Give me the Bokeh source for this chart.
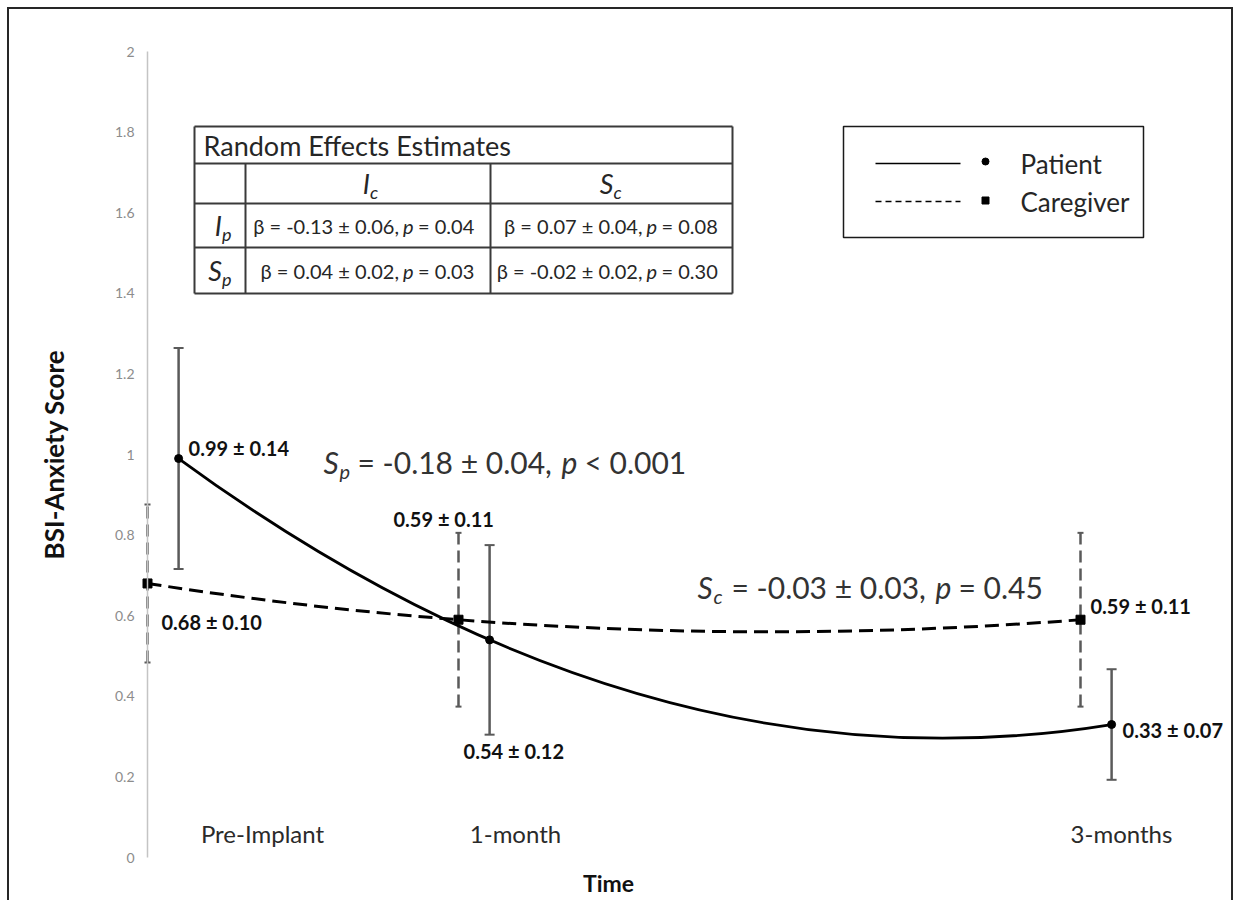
import numpy as np
from bokeh.plotting import figure
from bokeh.models import (Range1d, LinearAxis, FixedTicker, CustomJSTickFormatter,
                          ColumnDataSource, Whisker, TeeHead)
from bokeh.core.properties import value
from bokeh.embed import file_html
from bokeh.resources import INLINE

# ---------------- data ----------------
time_labels = ["Pre-Implant", "1-month", "3-months"]
months = [0, 1, 3]
patient_mean = [0.99, 0.54, 0.33]
patient_se = [0.14, 0.12, 0.07]
caregiver_mean = [0.68, 0.59, 0.59]
caregiver_se = [0.10, 0.11, 0.11]
y_ticks = [0, 0.2, 0.4, 0.6, 0.8, 1.0, 1.2, 1.4, 1.6, 1.8, 2.0]

slope_sub = ["p", "c"]
slope_est = ["-0.18 ± 0.04", "-0.03 ± 0.03"]
slope_p = ["< 0.001", "= 0.45"]

table_title = "Random Effects Estimates"
table_col_sub = ["c", "c"]
table_col_sym = ["I", "S"]
table_row_sym = ["I", "S"]
table_row_sub = ["p", "p"]
re_beta = [["-0.13 ± 0.06", "0.07 ± 0.04"],
           ["0.04 ± 0.02", "-0.02 ± 0.02"]]
re_p = [["0.04", "0.08"],
        ["0.03", "0.30"]]

series_names = ["Patient", "Caregiver"]

# ---------------- layout helpers (page pixels -> data) ----------------
W, H = 1226, 893
OX, OY = 9, 9              # canvas origin on page (7px margin + 2px border)
X0, PXM = 147, 311         # page x of month 0, px per month
Y0, PXU = 857, 403         # page y of score 0, px per unit
FONT = "Lato"
PATIENT_DODGE = 0.1
Z = 1.96


def X(px):
    return (px - X0) / PXM


def Y(py):
    return (Y0 - py) / PXU


border = "2px solid #262626"
p = figure(width=W, height=H,
           x_range=Range1d(X(OX), X(OX + W)), y_range=Range1d(Y(OY + H), Y(OY)),
           output_backend="svg", toolbar_location=None,
           x_axis_location=None, y_axis_location=None,
           min_border=0, outline_line_color=None,
           background_fill_color="white", border_fill_color="white",
           styles={"margin-left": "7px", "margin-top": "7px",
                   "border-left": border, "border-top": border, "border-right": border})
for g in p.grid:
    g.visible = False

# y axis at month 0
yax = LinearAxis(fixed_location=0, bounds=(0, 2),
                 ticker=FixedTicker(ticks=y_ticks),
                 formatter=CustomJSTickFormatter(code="return String(Number(tick.toFixed(1)));"),
                 axis_line_color="#c4c4c4", axis_line_width=1.5,
                 major_tick_line_color=None, minor_tick_line_color=None,
                 major_tick_out=0, major_tick_in=0, major_label_standoff=13,
                 major_label_text_font=FONT, major_label_text_font_size="14px",
                 major_label_text_color="#8c8c8c",
                 axis_label="BSI-Anxiety Score", axis_label_text_font=FONT,
                 axis_label_text_font_style="bold", axis_label_text_font_size="26px",
                 axis_label_text_color="#111111", axis_label_standoff=42)
p.add_layout(yax, "left")

xax = LinearAxis(fixed_location=0, bounds=(0, 2 * X(608)),
                 ticker=FixedTicker(ticks=[]),
                 axis_line_color=None, major_tick_line_color=None, minor_tick_line_color=None,
                 major_tick_out=0, major_tick_in=0, major_label_text_font_size="0px",
                 axis_label="Time", axis_label_text_font=FONT,
                 axis_label_text_font_style="bold", axis_label_text_font_size="23px",
                 axis_label_text_color="#111111", axis_label_standoff=11)
p.add_layout(xax, "below")

# ---------------- series ----------------
patient_x = [m + PATIENT_DODGE for m in months]
caregiver_x = list(months)


def parabola(xs, ys):
    c = np.polyfit(xs, ys, 2)
    x0, x1 = xs[0], xs[-1]
    slope0 = 2 * c[0] * x0 + c[1]
    cx = (x0 + x1) / 2
    cy = ys[0] + slope0 * (cx - x0)
    return dict(x0=[x0], y0=[ys[0]], x1=[x1], y1=[ys[-1]], cx=[cx], cy=[cy])


p.quadratic(**parabola(caregiver_x, caregiver_mean), line_color="black",
            line_width=3, line_dash="14 7")
p.quadratic(**parabola(patient_x, patient_mean), line_color="black", line_width=2.8)

src_p = ColumnDataSource(dict(
    x=patient_x, y=patient_mean,
    upper=[m + Z * s for m, s in zip(patient_mean, patient_se)],
    lower=[m - Z * s for m, s in zip(patient_mean, patient_se)]))
src_c = ColumnDataSource(dict(
    x=caregiver_x, y=caregiver_mean,
    upper=[m + Z * s for m, s in zip(caregiver_mean, caregiver_se)],
    lower=[m - Z * s for m, s in zip(caregiver_mean, caregiver_se)]))

EB = "#5a5a5a"
p.add_layout(Whisker(source=src_c, base="x", upper="upper", lower="lower",
                     line_color=EB, line_width=2.5, line_dash="12 6",
                     upper_head=TeeHead(size=6, line_color=EB, line_width=2),
                     lower_head=TeeHead(size=6, line_color=EB, line_width=2)))
p.add_layout(Whisker(source=src_p, base="x", upper="upper", lower="lower",
                     line_color=EB, line_width=2.5,
                     upper_head=TeeHead(size=10, line_color=EB, line_width=2),
                     lower_head=TeeHead(size=10, line_color=EB, line_width=2)))

p.scatter("x", "y", source=src_c, marker="square", size=9, color="black")
p.scatter("x", "y", source=src_p, marker="circle", size=8, color="black")

# value labels
lab_p = ColumnDataSource(dict(
    x=patient_x, y=patient_mean,
    text=[f"{m:.2f} ± {s:.2f}" for m, s in zip(patient_mean, patient_se)],
    xo=[10, -26, 11], yo=[-11, 111, 5]))
lab_c = ColumnDataSource(dict(
    x=caregiver_x, y=caregiver_mean,
    text=[f"{m:.2f} ± {s:.2f}" for m, s in zip(caregiver_mean, caregiver_se)],
    xo=[14, -65, 10], yo=[39, -101, -14]))
for src in (lab_p, lab_c):
    p.text("x", "y", text="text", source=src, x_offset="xo", y_offset="yo",
           text_font=value(FONT), text_font_style="bold", text_font_size="20px",
           text_align="left", text_baseline="middle", text_color="#111111")

# time labels
p.text(x=months, y=[Y(833)] * 3, text=time_labels, x_offset=[115, 57, 41],
       text_font=value(FONT), text_font_size="24px", text_align="center",
       text_baseline="middle", text_color="#2a2a2a")


def txt(px, py, s, size, style="normal", align="left", color="#262626"):
    p.text(x=[X(px)], y=[Y(py)], text=[s], text_font=value(FONT),
           text_font_size=f"{size}px", text_font_style=style, text_align=align,
           text_baseline="middle", text_color=color)


# slope formulas
for (bx, by), sub, est, pv in zip([(323, 461), (697, 586)], slope_sub, slope_est, slope_p):
    txt(bx, by, "S", 30, "italic", color="#333333")
    txt(bx + 16, by + 9, sub, 20, "italic", color="#333333")
    txt(bx + 34, by, f"= {est},", 30, color="#333333")
    txt(bx + 238, by, "p", 30, "italic", color="#333333")
    txt(bx + 261, by, pv, 30, color="#333333")

# ---------------- random effects table ----------------
rows_y = [126, 163, 203, 247, 293]
cols_x = [194, 245, 490, 732]
LC = "#3a3a3a"
p.quad(left=[X(cols_x[0])], right=[X(cols_x[-1])], top=[Y(rows_y[0])], bottom=[Y(rows_y[-1])],
       fill_color="white", line_color=None)
p.segment(x0=[X(cols_x[0])] * 5, x1=[X(cols_x[-1])] * 5,
          y0=[Y(v) for v in rows_y], y1=[Y(v) for v in rows_y], line_color=LC, line_width=2)
p.segment(x0=[X(cols_x[0]), X(cols_x[-1]), X(cols_x[1]), X(cols_x[2])],
          x1=[X(cols_x[0]), X(cols_x[-1]), X(cols_x[1]), X(cols_x[2])],
          y0=[Y(rows_y[0]), Y(rows_y[0]), Y(rows_y[1]), Y(rows_y[1])],
          y1=[Y(rows_y[-1])] * 4, line_color=LC, line_width=2)

txt(203, 145, table_title, 27)
col_centers = [(cols_x[1] + cols_x[2]) / 2, (cols_x[2] + cols_x[3]) / 2]
row_centers = [(rows_y[2] + rows_y[3]) / 2, (rows_y[3] + rows_y[4]) / 2]
hdr_y = (rows_y[1] + rows_y[2]) / 2
for cx, sym, sub in zip(col_centers, table_col_sym, table_col_sub):
    txt(cx + 2, hdr_y, sym, 27, "italic", align="right")
    txt(cx + 2, hdr_y + 8, sub, 18, "italic")
rl = (cols_x[0] + cols_x[1]) / 2
for cy, sym, sub in zip(row_centers, table_row_sym, table_row_sub):
    txt(rl + 2, cy, sym, 27, "italic", align="right")
    txt(rl + 2, cy + 8, sub, 18, "italic")
for r, cy in enumerate(row_centers):
    for c, cx in enumerate(col_centers):
        txt(cx + 31, cy, f"β = {re_beta[r][c]},", 20, align="right")
        txt(cx + 35, cy, "p", 20, "italic")
        txt(cx + 50, cy, f"= {re_p[r][c]}", 20)

# ---------------- legend ----------------
p.quad(left=[X(843)], right=[X(1143)], top=[Y(126)], bottom=[Y(237)],
       fill_color="white", line_color="#1a1a1a", line_width=1.5)
p.segment(x0=[X(875)], x1=[X(960)], y0=[Y(163)], y1=[Y(163)], line_color="black", line_width=1.5)
p.segment(x0=[X(875)], x1=[X(960)], y0=[Y(201)], y1=[Y(201)], line_color="black",
          line_width=1.5, line_dash="6 4")
p.scatter(x=[X(985)], y=[Y(161)], marker="circle", size=7, color="black")
p.scatter(x=[X(985)], y=[Y(200)], marker="square", size=7, color="black")
txt(1020, 163, series_names[0], 26, color="#262626")
txt(1020, 201, series_names[1], 26, color="#262626")

open("out.html", "w").write(file_html(p, INLINE))
